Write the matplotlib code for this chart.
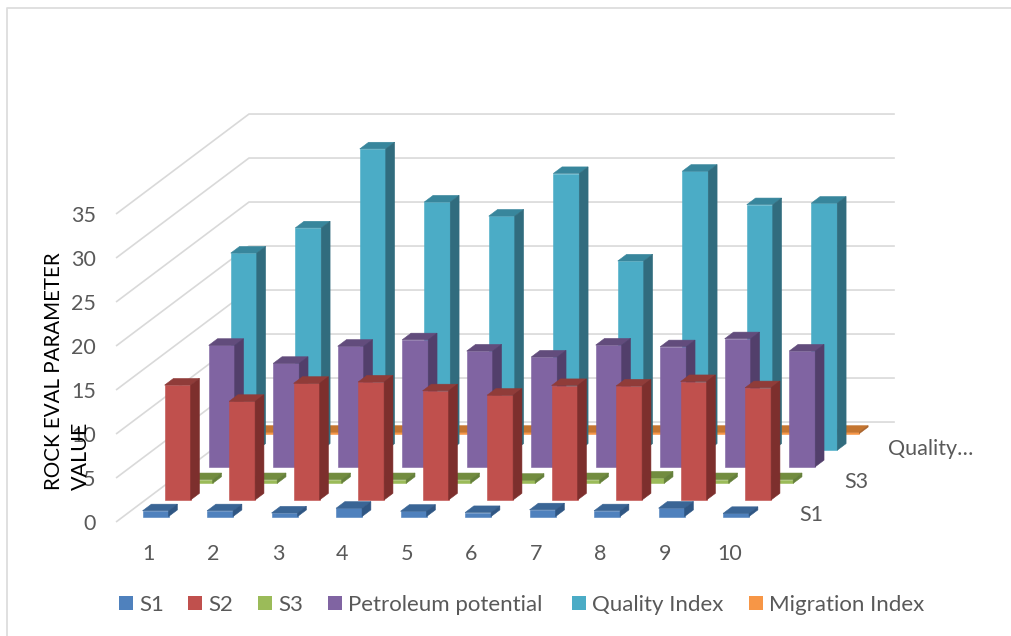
import matplotlib
matplotlib.use('Agg')
import matplotlib.pyplot as plt
from matplotlib.patches import Polygon, Rectangle

plt.rcParams['font.family'] = ['Lato', 'DejaVu Sans']

categories = ['1', '2', '3', '4', '5', '6', '7', '8', '9', '10']
z_ticks = [0, 5, 10, 15, 20, 25, 30, 35]
depth_labels = {0: 'S1', 2: 'S3', 4: 'Quality…'}

s1 = [0.65, 0.65, 0.4, 0.94, 0.6, 0.45, 0.76, 0.65, 0.95, 0.35]
s2 = [13.05, 11.2, 13.25, 13.4, 12.4, 11.9, 13.0, 12.95, 13.45, 12.75]
s3 = [0.42, 0.42, 0.42, 0.42, 0.42, 0.35, 0.42, 0.6, 0.42, 0.42]
petroleum = [13.8, 11.75, 13.7, 14.43, 13.15, 12.47, 13.83, 13.64, 14.55, 13.15]
quality = [22.4, 25.26, 34.24, 28.2, 26.6, 31.44, 21.5, 31.7, 27.9, 28.07]
migration = [0.15, 0.15, 0.15, 0.15, 0.15, 0.15, 0.15, 0.15, 0.15, 0.15]

# name, values, front, top, side colours
series = [
    ('S1', s1, '#4F81BD', '#3A6595', '#2F5683'),
    ('S2', s2, '#C0504D', '#903C39', '#7D2F2D'),
    ('S3', s3, '#9BBB59', '#728C3F', '#65803A'),
    ('Petroleum potential', petroleum, '#8064A2', '#624C7C', '#523F6B'),
    ('Quality Index', quality, '#4BACC6', '#38869C', '#316C7E'),
    ('Migration Index', migration, '#F79646', '#C47530', '#A8622A'),
]

# oblique projection of the 3D box onto pixel space
X0, Y0 = 116.7, 521.5
CAT_W = 64.5
DEPTH_DX, DEPTH_DY = 22.05, 16.58
Z_SCALE = 8.8
BAR_W = 0.403
BAR_D = 0.4
GRID = '#D9D9D9'
TEXT = '#595959'


def project(cat, depth, z):
    return (X0 + cat * CAT_W + depth * DEPTH_DX,
            Y0 - depth * DEPTH_DY - z * Z_SCALE)


def draw_bar(ax, cat, depth, value, front, top, side):
    x0 = cat + (1 - BAR_W) / 2
    x1 = x0 + BAR_W
    d0 = depth + (1 - BAR_D) / 2
    d1 = d0 + BAR_D
    faces = [
        ([(x0, d0, 0), (x1, d0, 0), (x1, d0, value), (x0, d0, value)], front),
        ([(x0, d0, value), (x1, d0, value), (x1, d1, value), (x0, d1, value)], top),
        ([(x1, d0, 0), (x1, d1, 0), (x1, d1, value), (x1, d0, value)], side),
    ]
    for corners, color in faces:
        pts = [project(*c) for c in corners]
        ax.add_patch(Polygon(pts, closed=True, facecolor=color,
                             edgecolor=color, linewidth=0.4, zorder=2))


fig = plt.figure(figsize=(10.11, 6.36), dpi=100)
ax = fig.add_axes([0, 0, 1, 1])
ax.set_xlim(0, 1011)
ax.set_ylim(636, 0)
ax.axis('off')

# chart frame, only top and left edges show
ax.plot([7, 7, 1011], [636, 7.5, 7.5], color='#DDDDDD', lw=1.3, zorder=0)

# gridlines over side wall and back wall
n_cat = len(categories)
n_depth = len(series)
for z in z_ticks:
    a = project(0, 0, z)
    b = project(0, n_depth, z)
    c = project(n_cat, n_depth, z)
    ax.plot([a[0], b[0], c[0]], [a[1], b[1], c[1]], color=GRID, lw=1.2,
            solid_joinstyle='miter', zorder=1)
    ax.text(a[0] - 21, a[1], str(z), ha='right', va='center_baseline',
            fontsize=15.5, color=TEXT, zorder=3)

# back series first so the nearer bars cover them
for depth in range(n_depth - 1, -1, -1):
    name, values, front, top, side = series[depth]
    for cat, value in enumerate(values):
        draw_bar(ax, cat, depth, value, front, top, side)

for cat, label in enumerate(categories):
    x, y = project(cat + 0.5, 0, 0)
    ax.text(x, y + 31, label, ha='center', va='center_baseline',
            fontsize=15.5, color=TEXT)

for depth, label in depth_labels.items():
    x, y = project(n_cat, depth + 0.5, 0)
    ax.text(x + 27, y, label, ha='left', va='center_baseline',
            fontsize=15.5, color=TEXT)

ax.text(54, 490, 'ROCK EVAL PARAMETER', rotation=90, ha='center', va='bottom',
        fontsize=14.8, color='black', zorder=4)
ax.text(81, 490, 'VALUE', rotation=90, ha='center', va='bottom',
        fontsize=15.5, color='black', zorder=4)

# legend laid out by hand along the bottom edge
legend_x = [119, 188, 258, 328, 572, 749]
for (name, values, front, top, side), x in zip(series, legend_x):
    ax.add_patch(Rectangle((x, 596), 14, 14, facecolor=front, edgecolor='none'))
    ax.text(x + 20, 603, name, ha='left', va='center_baseline',
            fontsize=16, color=TEXT)

fig.savefig('out.png', dpi=100)
